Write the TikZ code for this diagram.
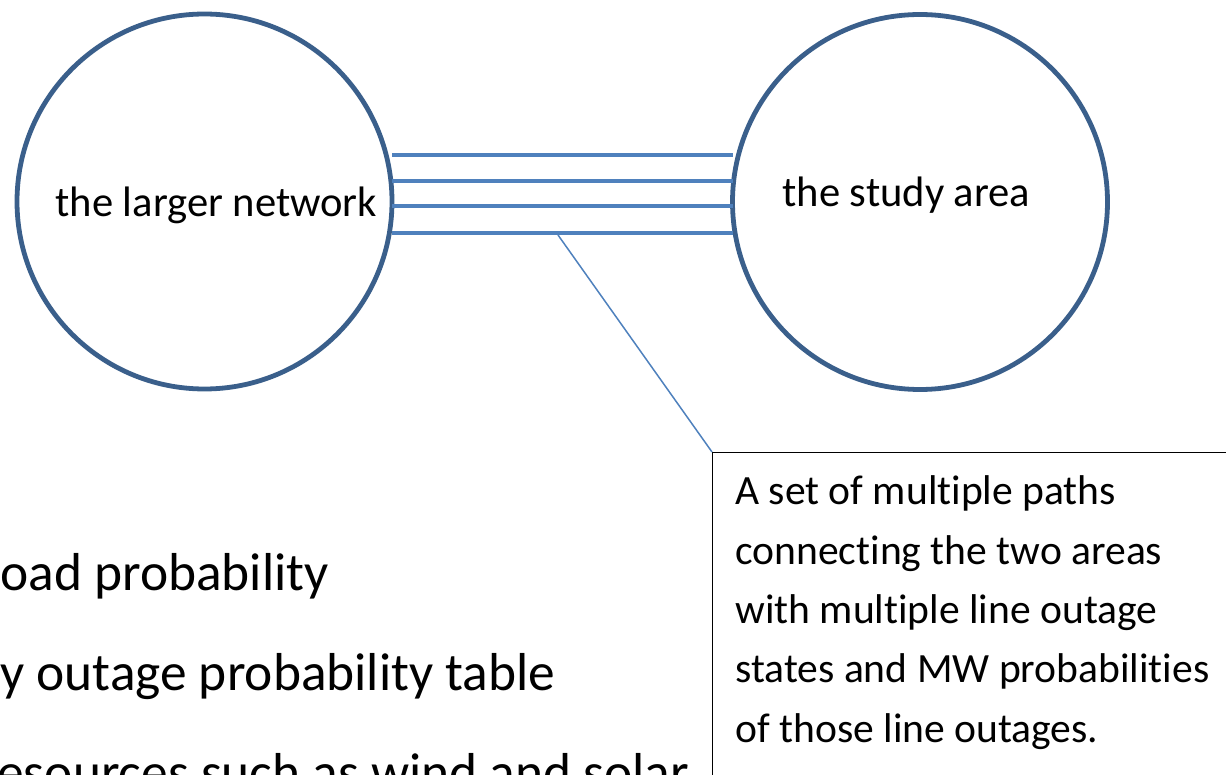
\documentclass[tikz,border=0pt]{standalone}
\usepackage{fontspec}
\setmainfont[Ligatures={NoCommon, NoDiscretionary}]{Carlito}
\usetikzlibrary{positioning}
\definecolor{ring}{RGB}{58, 95, 139}
\definecolor{link}{RGB}{79, 129, 189}

\tikzset{
  area/.style={circle, draw=ring, line width=2.4pt, inner sep=0pt, outer sep=0pt, minimum size=187.5pt},
  tie/.style={link, line width=2.3pt},
  label/.style={anchor=base west, inner sep=0pt, font=\fontsize{21.3}{25}\selectfont},
  big/.style={anchor=base west, inner sep=0pt, font=\fontsize{26.7}{32}\selectfont}
}

\begin{document}
\begin{tikzpicture}[x=0.5pt, y=-0.5pt]

  \useasboundingbox (0, 0) rectangle (1226, 775);
  \clip (0, 0) rectangle (1226, 775);

  \node[area] (net) at (204.5, 201.5) {};
  \node[area] (study) at (920, 202) {};

  \node[label] (netlabel) at (55, 217) {the larger network};
  \node[label] (studylabel) at (782, 207) {the study area};

  % the paths between the two areas
  \foreach \yy in {155, 181, 206, 233}
    \draw[tie] (net.east |- 0, \yy) -- (study.west |- 0, \yy);

  \node[draw=black, line width=0.5pt, anchor=north west, inner sep=0pt,
        minimum width=300pt, minimum height=200pt] (note) at (712, 452) {};
  % base of the last line
  \node[label, align=left, font=\fontsize{20.8}{29.65}\selectfont] (notetext) at (735, 742)
    {A set of multiple paths\\ connecting the two areas\\ with multiple line outage\\
     states and MW probabilities\\ of those line outages.};

  \coordinate (tap) at (558, 235);
  \draw[link, line width=0.75pt] (tap) -- (note.north west);

  \node[big] (load) at (0, 590) {oad probability};
  \node[big] (outage) at (0, 690) {y outage probability table};
  \node[big] (res) at (-3, 790) {esources such as wind and solar};

\end{tikzpicture}
\end{document}
